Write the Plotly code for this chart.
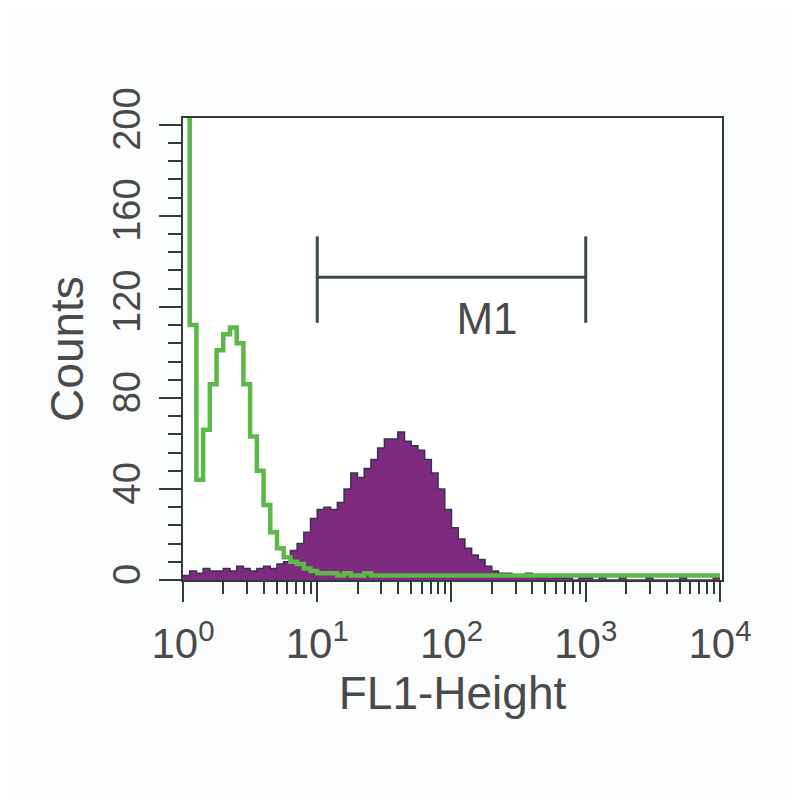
import plotly.graph_objects as go

# Channel edges in decades (log10 of FL1-Height), 0.05-decade channels
channel_edges_log = [
    0.00, 0.05, 0.10, 0.15, 0.20, 0.25, 0.30, 0.35, 0.40, 0.45,
    0.50, 0.55, 0.60, 0.65, 0.70, 0.75, 0.80, 0.85, 0.90, 0.95,
    1.00, 1.05, 1.10, 1.15, 1.20, 1.25, 1.30, 1.35, 1.40, 1.45,
    1.50, 1.55, 1.60, 1.65, 1.70, 1.75, 1.80, 1.85, 1.90, 1.95,
    2.00, 2.05, 2.10, 2.15, 2.20, 2.25, 2.30, 2.35, 2.40, 2.45,
    2.50, 2.55, 2.60, 2.65, 2.70, 2.75, 2.80, 2.85, 2.90, 2.95,
    3.00, 3.05, 3.10, 3.15, 3.20, 3.25, 3.30, 3.35, 3.40, 3.45,
    3.50, 3.55, 3.60, 3.65, 3.70, 3.75, 3.80, 3.85, 3.90, 3.95,
    4.00,
]

# Stained sample (filled purple histogram) - counts per channel
stained_counts = [
    2, 4, 3, 5, 4, 4, 5, 4, 6, 5,
    4, 5, 6, 5, 7, 8, 13, 16, 21, 27,
    31, 32, 31, 34, 40, 47, 45, 49, 53, 58,
    62, 62, 65, 61, 59, 57, 53, 47, 40, 31,
    23, 18, 14, 11, 9, 6, 4, 3, 3, 2,
    2, 3, 2, 1, 2, 1, 1, 1, 0, 1,
    1, 0, 1, 0, 0, 1, 0, 0, 0, 1,
    0, 0, 0, 0, 1, 0, 0, 0, 0, 1,
]

# Isotype control (green outline histogram) - counts per channel
control_counts = [
    260, 112, 44, 66, 86, 101, 108, 111, 104, 86,
    63, 48, 33, 21, 14, 10, 8, 7, 5, 4,
    3, 3, 3, 2, 3, 2, 2, 3, 2, 2,
    2, 2, 2, 2, 2, 2, 2, 2, 2, 2,
    2, 2, 2, 2, 2, 2, 2, 2, 2, 2,
    2, 2, 2, 2, 2, 2, 2, 2, 2, 2,
    2, 2, 2, 2, 2, 2, 2, 2, 2, 2,
    2, 2, 2, 2, 2, 2, 2, 2, 2, 2,
]

# Marker gate M1
gate_start = 10
gate_end = 1000
gate_level = 133
gate_tick_top = 151
gate_tick_bottom = 113
gate_label = "M1"
gate_label_x = 184
gate_label_y = 113

x_tick_vals = [1, 10, 100, 1000, 10000]
x_tick_text = ["10<sup>0</sup>", "10<sup>1</sup>", "10<sup>2</sup>",
               "10<sup>3</sup>", "10<sup>4</sup>"]
y_tick_vals = [0, 40, 80, 120, 160, 200]

edges = [10 ** v for v in channel_edges_log]
stained_y = stained_counts + [stained_counts[-1]]
control_y = control_counts + [control_counts[-1]]

minor_x = [m * 10 ** k for k in range(4) for m in range(2, 10)]

FONT = "Liberation Sans, Arial, Helvetica, sans-serif"
AXIS_COLOR = "#2f3b3a"
TEXT_COLOR = "#4a4a4a"

fig = go.Figure()

fig.add_trace(go.Scatter(
    x=edges, y=stained_y, mode="lines", line_shape="hv",
    line=dict(color="#3b3050", width=1.5),
    fill="tozeroy", fillcolor="#7e2a7f",
    showlegend=False, hoverinfo="skip",
))

fig.add_trace(go.Scatter(
    x=edges, y=control_y, mode="lines", line_shape="hv",
    line=dict(color="#5cb848", width=4.5),
    showlegend=False, hoverinfo="skip",
))

fig.add_trace(go.Scatter(
    x=[gate_start, gate_start, None, gate_start, gate_end, None, gate_end, gate_end],
    y=[gate_tick_top, gate_tick_bottom, None, gate_level, gate_level, None,
       gate_tick_top, gate_tick_bottom],
    mode="lines", line=dict(color="#3c4a48", width=3),
    showlegend=False, hoverinfo="skip",
))

fig.add_trace(go.Scatter(
    x=[gate_label_x], y=[gate_label_y], mode="text", text=[gate_label],
    textfont=dict(family=FONT, size=44, color="#4a4a4a"),
    textposition="middle center",
    showlegend=False, hoverinfo="skip",
))

fig.update_layout(
    width=800, height=800,
    margin=dict(l=175, r=86, t=110, b=228, autoexpand=False),
    paper_bgcolor="#fbfdfd", plot_bgcolor="#ffffff",
    font=dict(family=FONT, color=TEXT_COLOR),
)

fig.update_xaxes(
    type="log", range=[0, 4.015],
    tickvals=x_tick_vals, ticktext=x_tick_text,
    tickfont=dict(size=42, color=TEXT_COLOR),
    ticks="outside", ticklen=20, tickwidth=2, tickcolor=AXIS_COLOR,
    ticklabelstandoff=6,
    minor=dict(tickvals=minor_x, ticks="outside", ticklen=12, tickwidth=2,
               tickcolor=AXIS_COLOR, showgrid=False),
    showline=True, linecolor=AXIS_COLOR, linewidth=2, mirror=True,
    showgrid=False, zeroline=False,
    title=dict(text="FL1-Height", font=dict(size=46, color=TEXT_COLOR), standoff=0),
)

fig.update_yaxes(
    range=[0, 203],
    tickvals=y_tick_vals, tickangle=-90,
    tickfont=dict(size=38, color=TEXT_COLOR),
    ticks="outside", ticklen=22, tickwidth=2, tickcolor=AXIS_COLOR,
    ticklabelstandoff=4,
    minor=dict(dtick=8, ticks="outside", ticklen=13, tickwidth=2,
               tickcolor=AXIS_COLOR, showgrid=False),
    showline=True, linecolor=AXIS_COLOR, linewidth=2, mirror=True,
    showgrid=False, zeroline=False,
    title=dict(text="Counts", font=dict(size=46, color=TEXT_COLOR), standoff=8),
)

fig.write_html("out.html")
